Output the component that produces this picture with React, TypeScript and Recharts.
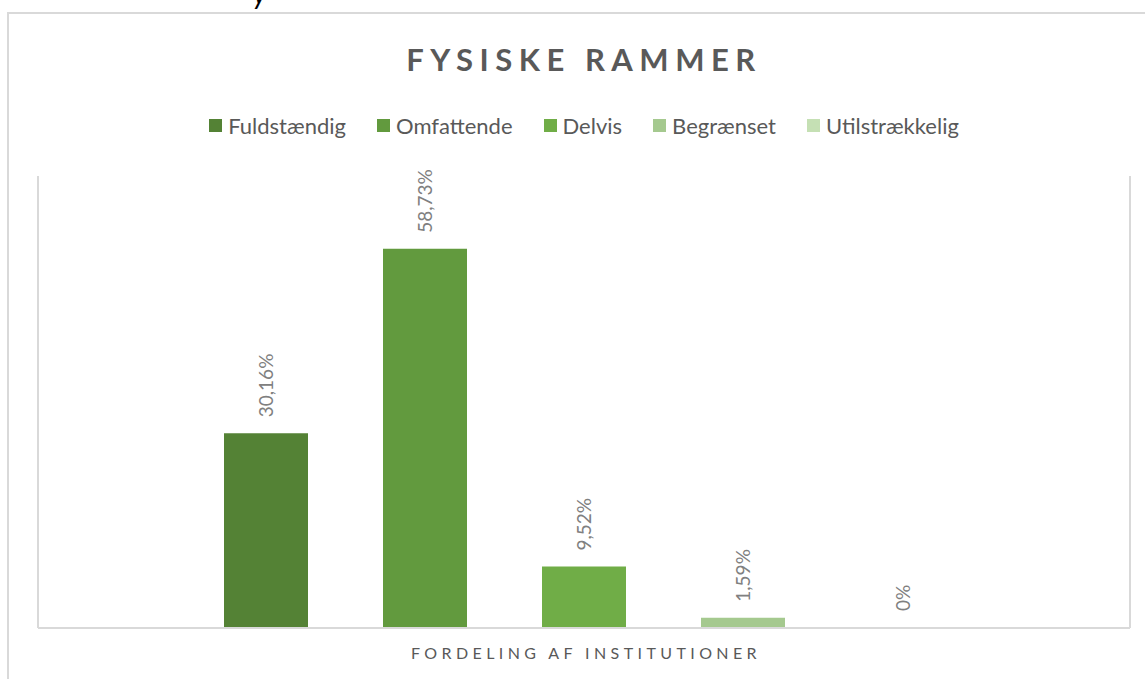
import React from 'react';
import { BarChart, Bar, XAxis, YAxis, LabelList } from 'recharts';

// andel af institutioner pr. vurdering (%)
const categories = ['Fuldstændig', 'Omfattende', 'Delvis', 'Begrænset', 'Utilstrækkelig'];
const shares = [30.16, 58.73, 9.52, 1.59, 0];
const groupName = 'FORDELING AF INSTITUTIONER';
const yDomain = [0, 70];

const palette = ['#548235', '#629a3e', '#70ad47', '#a5c98f', '#c5e0b4'];
const FONT = 'Lato, "Open Sans", sans-serif';
const GRID = '#d9d9d9';

const row: Record<string, string | number> = { group: groupName };
categories.forEach((c, i) => {
  row[c] = shares[i];
});
const data = [row];

const fmt = (v: number) => `${String(v).replace('.', ',')}%`;

function RotLabel(props: any) {
  const { x, y, width, value } = props;
  const cx = x + width / 2;
  const ty = y - 16;
  return (
    <text
      x={cx}
      y={ty}
      transform={`rotate(-90 ${cx} ${ty})`}
      textAnchor="start"
      dominantBaseline="central"
      fill="#808080"
      fontSize={19}
      fontFamily={FONT}
    >
      {fmt(Number(value))}
    </text>
  );
}

export default function App() {
  return (
    <div style={{ position: 'fixed', left: 0, top: 0, width: 1145, height: 679, overflow: 'hidden', background: '#fff', fontFamily: FONT }}>
      <div style={{ position: 'absolute', left: 253, top: -24, fontSize: 28, color: '#000', fontStyle: 'italic' }}>y</div>
      <div style={{ position: 'absolute', left: 7, top: 12, width: 1200, height: 700, border: `2px solid ${GRID}` }} />

      <div style={{ position: 'absolute', left: 0, top: 40, width: 1168, textAlign: 'center', fontSize: 31, fontWeight: 700, color: '#595959', letterSpacing: 6.5 }}>
        FYSISKE RAMMER
      </div>

      <div style={{ position: 'absolute', left: 0, top: 112, width: 1168, display: 'flex', justifyContent: 'center', gap: 31, fontSize: 22, color: '#595959' }}>
        {categories.map((c, i) => (
          <div key={c} style={{ display: 'flex', alignItems: 'center' }}>
            <span style={{ width: 13, height: 13, background: palette[i], marginRight: 6, display: 'inline-block' }} />
            {c}
          </div>
        ))}
      </div>

      <div style={{ position: 'absolute', left: 0, top: 643, width: 1172, textAlign: 'center', fontSize: 16, color: '#595959', letterSpacing: 4.4 }}>
        {groupName}
      </div>

      <div style={{ position: 'absolute', left: 0, top: 0 }}>
        <BarChart width={1145} height={679} data={data} margin={{ top: 176, right: 14, bottom: 50, left: 37 }} barGap={75}>
          <XAxis dataKey="group" height={1} tick={false} tickLine={false} axisLine={{ stroke: GRID, strokeWidth: 2 }} />
          <YAxis yAxisId="l" width={1} domain={yDomain} tick={false} tickLine={false} axisLine={{ stroke: GRID, strokeWidth: 2 }} />
          <YAxis yAxisId="r" orientation="right" width={1} domain={yDomain} tick={false} tickLine={false} axisLine={{ stroke: GRID, strokeWidth: 2 }} />
          {categories.map((c, i) => (
            <Bar key={c} yAxisId="l" dataKey={c} fill={palette[i]} barSize={84} minPointSize={1} isAnimationActive={false}>
              <LabelList dataKey={c} content={RotLabel} />
            </Bar>
          ))}
        </BarChart>
      </div>
    </div>
  );
}
